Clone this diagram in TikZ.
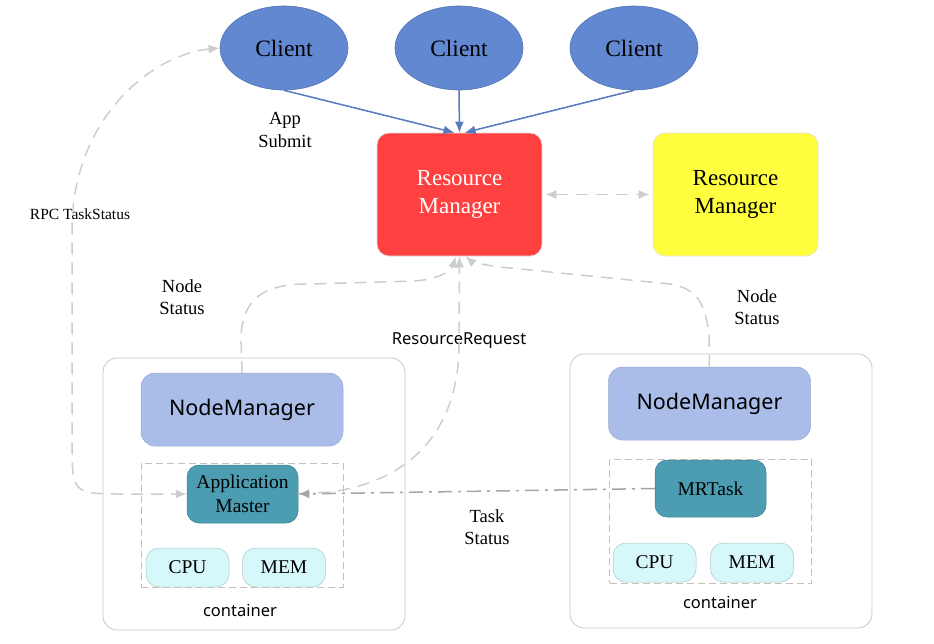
\documentclass[tikz,border=0pt]{standalone}
\usepackage{fontspec}
\setmainfont{Liberation Serif}
\setsansfont{Noto Sans}
\usetikzlibrary{arrows.meta, shapes.geometric, positioning}

\definecolor{clientblue}{RGB}{98,136,210}
\definecolor{rmred}{RGB}{255,64,64}
\definecolor{rmyellow}{RGB}{255,255,64}
\definecolor{nmblue}{RGB}{170,189,232}
\definecolor{amteal}{RGB}{76,156,178}
\definecolor{rescyan}{RGB}{214,248,250}
\definecolor{flowgray}{RGB}{205,205,205}
\definecolor{taskgray}{RGB}{165,165,165}
\definecolor{boxgray}{RGB}{200,190,190}

\tikzset{
    client/.style={ellipse, fill=clientblue, draw=clientblue!85!black, line width=0.6pt,
        minimum width=128pt, minimum height=84pt, inner sep=0pt,
        font=\fontsize{23.5}{27}\selectfont},
    rmbox/.style={rectangle, rounded corners=12pt, draw=black!12, line width=0.6pt,
        minimum width=165pt, minimum height=123pt, align=center,
        font=\fontsize{23}{28}\selectfont},
    outerbox/.style={rectangle, rounded corners=14pt, draw=black!22, line width=0.8pt,
        minimum width=302pt, minimum height=272pt},
    nmbox/.style={rectangle, rounded corners=14pt, fill=nmblue, draw=nmblue!90!black,
        line width=0.5pt, minimum width=202pt, minimum height=73pt,
        font=\sffamily\fontsize{21.5}{25}\selectfont},
    innerbox/.style={rectangle, draw=boxgray, dash pattern=on 7pt off 4pt, line width=0.9pt,
        minimum width=202pt, minimum height=124pt},
    taskbox/.style={rectangle, rounded corners=12pt, fill=amteal, draw=amteal!80!black,
        line width=0.5pt, minimum width=111pt, minimum height=58pt, align=center,
        font=\fontsize{19.5}{24}\selectfont},
    resbox/.style={rectangle, rounded corners=13pt, fill=rescyan, draw=rescyan!80!black,
        line width=0.5pt, minimum width=83pt, minimum height=39pt,
        font=\fontsize{19.5}{22}\selectfont},
    lbl/.style={align=center, font=\fontsize{18.5}{22.5}\selectfont},
    sanslbl/.style={font=\sffamily\fontsize{16.5}{19}\selectfont},
    submit/.style={draw=clientblue!90!black, line width=1.5pt, -{Latex[length=11pt,width=9pt]}},
    flow/.style={draw=flowgray, line width=1.5pt, dash pattern=on 12pt off 8pt},
    taskflow/.style={draw=taskgray, line width=1.5pt, dash pattern=on 14pt off 6pt on 3pt off 6pt}
}

\begin{document}
\begin{tikzpicture}[x=1pt, y=-1pt, >={Latex[length=11pt,width=9pt]}]
    \useasboundingbox (0,0) rectangle (934,643);

    % clients and resource managers
    \node[client] (client1) at (284,48) {Client};
    \node[client] (client2) at (459,48) {Client};
    \node[client] (client3) at (634,48) {Client};
    \node[rmbox, fill=rmred, text=white] (rm) at (459.5,194.5) {Resource\\Manager};
    \node[rmbox, fill=rmyellow] (rmstandby) at (735.5,194.5) {Resource\\Manager};

    % node 1
    \node[outerbox] (node1) at (254,494) {};
    \node[nmbox] (nm1) at (242,409.5) {NodeManager};
    \node[innerbox] (cont1) at (242,525) {};
    \node[taskbox] (am) at (242.5,494) {Application\\Master};
    \node[resbox] (cpu1) at (187.5,567.5) {CPU};
    \node[resbox] (mem1) at (284,567.5) {MEM};
    \node[sanslbl] (contlbl1) at (240,610) {container};

    % node 2
    \node[outerbox, minimum height=274pt] (node2) at (721,491) {};
    \node[nmbox] (nm2) at (709.5,403.5) {NodeManager};
    \node[innerbox] (cont2) at (710.5,521) {};
    \node[taskbox, minimum height=57pt] (mr) at (710.5,488.5) {MRTask};
    \node[resbox] (cpu2) at (654.5,562.5) {CPU};
    \node[resbox] (mem2) at (752,562.5) {MEM};
    \node[sanslbl] (contlbl2) at (720,602) {container};

    % labels
    \node[lbl] (appsubmit) at (285,130) {App\\Submit};
    \node[lbl, font=\fontsize{15.5}{18}\selectfont] (rpclbl) at (80,214) {RPC TaskStatus};
    \node[lbl] (status1) at (182,297) {Node\\Status};
    \node[lbl] (status2) at (757,307) {Node\\Status};
    \node[sanslbl] (reqlbl) at (459,341) {ResourceRequest};
    \node[lbl] (tasklbl) at (487,527) {Task\\Status};

    % submit
    \draw[submit] (client1.south) -- ([xshift=-5pt]rm.north);
    \draw[submit] (client2.south) -- (rm.north);
    \draw[submit] (client3.south) -- ([xshift=5pt]rm.north);

    % rm <-> standby
    \draw[flow, <->, shorten <=3pt, shorten >=3pt] (rm.east) -- (rmstandby.west);

    % rpc task status
    \draw[flow, <->] (client1.west) .. controls (150,55) and (72,120) .. (72,230)
        -- (72,440) .. controls (72,494) .. (125,494) -- (am.west);

    % node status
    \draw[flow, ->] (nm1.north) -- (241,335) .. controls (244,292) and (272,284) .. (310,284)
        -- (415,281) .. controls (440,279) and (452,270) .. ([xshift=-4pt]rm.south);
    \draw[flow, ->] (nm2.north) -- (709,335) .. controls (705,300) and (695,285) .. (660,283)
        -- (500,267) .. controls (485,265) and (472,262) .. ([xshift=6pt]rm.south);

    % resource request
    \draw[flow, ->] (am.east) -- (330,492) .. controls (420,480) and (459,420) .. (459,345)
        -- (rm.south);

    % task status
    \draw[taskflow, ->] (mr.west) -- (am.east);
\end{tikzpicture}
\end{document}
